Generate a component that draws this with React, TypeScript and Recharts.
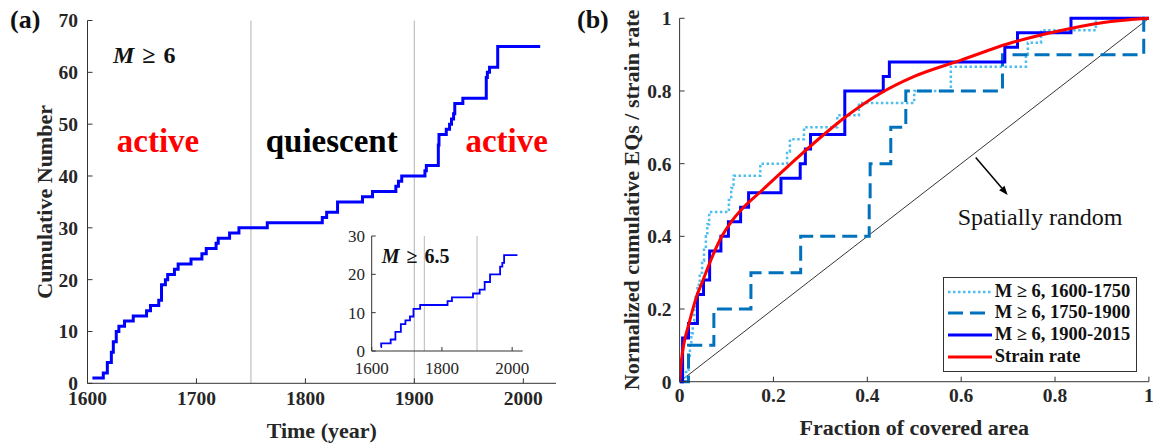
import React from 'react';
import { LineChart, Line, XAxis, YAxis, ReferenceLine, Legend } from 'recharts';

const FONT = "'Liberation Serif', 'Times New Roman', Times, serif";
const AXIS = '#333333';
const GREY = '#c4c4c4';

// (a) cumulative number of M >= 6 events
const mainYears = [1604.5, 1614.5, 1618.2, 1621.9, 1623.7, 1626.4, 1628.8, 1634, 1642, 1654.2, 1657.8, 1665.4, 1667.9, 1671.5, 1673.6, 1679.8, 1683.2, 1695, 1705, 1709, 1718, 1720, 1730.4, 1739, 1765, 1815.5, 1819.5, 1829.5, 1852.4, 1861.6, 1883, 1885.4, 1888.4, 1909.7, 1911, 1922, 1922.6, 1929.3, 1932.3, 1934.1, 1936, 1937.1, 1944.5, 1966, 1967, 1969, 1976.5, 2015.5];
const mainCounts = [1, 2, 4, 6, 8, 10, 11, 12, 13, 14, 15, 16, 19, 20, 21, 22, 23, 24, 25, 26, 27, 28, 29, 30, 31, 32, 33, 35, 36, 37, 38, 39, 40, 41, 42, 46, 48, 49, 50, 51, 52, 54, 55, 59, 60, 61, 65, 65];

// inset, M >= 6.5
const insetYears = [1626, 1627, 1654, 1667.5, 1683, 1696, 1709, 1719, 1738, 1816, 1828.5, 1888.5, 1907.5, 1921.7, 1937, 1965.7, 1972, 1977, 2015];
const insetCounts = [1, 2, 3, 5, 7, 8, 9, 11, 12, 13, 14, 15, 16, 18, 20, 22, 23, 25, 25];

const yearTicks = [1600, 1700, 1800, 1900, 2000];
const countTicks = [0, 10, 20, 30, 40, 50, 60, 70];
const insetYearTicks = [1600, 1800, 2000];
const insetCountTicks = [0, 10, 20, 30];
const phaseBounds = [1750, 1900];

// (b) normalized cumulative curves vs fraction of covered area
const earlyF = [0, 0.014, 0.019, 0.022, 0.025, 0.028, 0.031, 0.034, 0.038, 0.043, 0.048, 0.052, 0.056, 0.059, 0.063, 0.105, 0.11, 0.115, 0.172, 0.229, 0.235, 0.265, 0.336, 0.382, 0.5, 0.578, 0.738, 0.742, 0.77, 0.887, 1];
const earlyV = [0, 0.033, 0.067, 0.1, 0.133, 0.167, 0.2, 0.233, 0.267, 0.3, 0.333, 0.367, 0.4, 0.433, 0.467, 0.5, 0.533, 0.567, 0.6, 0.633, 0.667, 0.7, 0.733, 0.767, 0.8, 0.867, 0.9, 0.933, 0.967, 1, 1];
const midF = [0, 0.019, 0.073, 0.152, 0.258, 0.404, 0.406, 0.45, 0.482, 0.688, 0.989, 1];
const midV = [0, 0.1, 0.2, 0.3, 0.4, 0.5, 0.6, 0.7, 0.8, 0.9, 1, 1];
const lateF = [0, 0.0064, 0.019, 0.038, 0.051, 0.064, 0.088, 0.104, 0.13, 0.147, 0.216, 0.257, 0.268, 0.279, 0.352, 0.434, 0.447, 0.693, 0.72, 0.834, 1];
const lateV = [0, 0.12, 0.16, 0.24, 0.28, 0.36, 0.4, 0.44, 0.48, 0.52, 0.56, 0.6, 0.64, 0.68, 0.8, 0.84, 0.88, 0.92, 0.96, 1, 1];
const strainF = [0, 0.004, 0.01, 0.02, 0.035, 0.05, 0.07, 0.09, 0.11, 0.135, 0.17, 0.21, 0.25, 0.3, 0.352, 0.43, 0.5, 0.6, 0.7, 0.8, 0.9, 1];
const strainV = [0, 0.06, 0.11, 0.16, 0.23, 0.28, 0.345, 0.4, 0.44, 0.478, 0.52, 0.568, 0.615, 0.672, 0.727, 0.795, 0.84, 0.885, 0.93, 0.963, 0.988, 1];
const randomF = [0, 1];
const randomV = [0, 1];
const fracTicks = [0, 0.2, 0.4, 0.6, 0.8, 1];
const arrowFrom = [0.631, 0.617];
const arrowTo = [0.699, 0.514];

const pairs = (xs: number[], ys: number[], kx: string, ky: string) =>
  xs.map((x, i) => ({ [kx]: x, [ky]: ys[i] }));

const mainData = pairs(mainYears, mainCounts, 'year', 'count');
const insetData = pairs(insetYears, insetCounts, 'year', 'count');
const earlyData = pairs(earlyF, earlyV, 'f', 'v');
const midData = pairs(midF, midV, 'f', 'v');
const lateData = pairs(lateF, lateV, 'f', 'v');
const strainData = pairs(strainF, strainV, 'f', 'v');
const randomData = pairs(randomF, randomV, 'f', 'v');

const seriesStyle: Record<string, { color: string; width: number; dash?: string }> = {
  'M ≥ 6, 1600-1750': { color: '#4dbeee', width: 2.5, dash: '2.5 2.5' },
  'M ≥ 6, 1750-1900': { color: '#0072bd', width: 3, dash: '15 7' },
  'M ≥ 6, 1900-2015': { color: '#0000ff', width: 3 },
  'Strain rate': { color: '#ff0000', width: 3 },
};

const tickBold = { fontSize: 19.5, fontWeight: 'bold', fill: '#262626', fontFamily: FONT };
const titleStyle = { fontSize: 22, fontWeight: 'bold', fill: '#262626', fontFamily: FONT };

function ArrowShape(props: any) {
  const { x1, y1, x2, y2 } = props;
  const dx = x2 - x1;
  const dy = y2 - y1;
  const len = Math.hypot(dx, dy) || 1;
  const ux = dx / len;
  const uy = dy / len;
  const bx = x2 - ux * 9;
  const by = y2 - uy * 9;
  const pts = `${x2},${y2} ${bx - uy * 3.5},${by + ux * 3.5} ${bx + uy * 3.5},${by - ux * 3.5}`;
  return (
    <g>
      <line x1={x1} y1={y1} x2={bx} y2={by} stroke="#000" strokeWidth={1.5} />
      <polygon points={pts} fill="#000" />
    </g>
  );
}

function renderLegend(props: any) {
  const items = (props.payload || []).filter((p: any) => seriesStyle[p.value]);
  return (
    <div
      style={{
        border: `1px solid ${AXIS}`,
        background: '#fff',
        padding: '3px 6px 3px 4px',
        fontFamily: FONT,
        fontWeight: 'bold',
        fontSize: 18.5,
        lineHeight: '21.8px',
        color: '#111',
      }}
    >
      {items.map((it: any) => {
        const st = seriesStyle[it.value];
        return (
          <div key={it.value} style={{ display: 'flex', alignItems: 'center', whiteSpace: 'nowrap' }}>
            <svg width={44} height={10} style={{ marginRight: 3 }}>
              <line x1={0} y1={5} x2={44} y2={5} stroke={st.color} strokeWidth={st.width} strokeDasharray={st.dash} />
            </svg>
            <span>{it.value}</span>
          </div>
        );
      })}
    </div>
  );
}

function PanelA() {
  return (
    <div style={{ position: 'absolute', left: 0, top: 0 }}>
      <LineChart width={580} height={443} margin={{ top: 20.5, right: 24, bottom: 0, left: 0 }}>
        <XAxis
          xAxisId="x"
          dataKey="year"
          type="number"
          domain={[1600, 2030]}
          ticks={yearTicks}
          interval={0}
          allowDataOverflow
          height={59.7}
          stroke={AXIS}
          tickSize={-5}
          tickMargin={12.5}
          tick={tickBold}
          label={{ value: 'Time (year)', position: 'insideBottom', offset: 5.5, ...titleStyle }}
        />
        <XAxis xAxisId="top" orientation="top" type="number" domain={[1600, 2030]} ticks={yearTicks} interval={0} height={0} stroke={AXIS} tickSize={-5} tick={false} />
        <YAxis
          yAxisId="y"
          type="number"
          domain={[0, 70]}
          ticks={countTicks}
          interval={0}
          width={87.5}
          stroke={AXIS}
          tickSize={-5}
          tickMargin={14.5}
          tick={tickBold}
          label={{ value: 'Cumulative Number', angle: -90, position: 'center', ...titleStyle }}
        />
        <YAxis yAxisId="right" orientation="right" type="number" domain={[0, 70]} ticks={countTicks} interval={0} width={0} stroke={AXIS} tickSize={-5} tick={false} />
        {phaseBounds.map((yr) => (
          <ReferenceLine key={yr} xAxisId="x" yAxisId="y" x={yr} stroke={GREY} strokeWidth={1.3} />
        ))}
        <Line
          xAxisId="x"
          yAxisId="y"
          data={mainData}
          dataKey="count"
          type="stepAfter"
          stroke="#0000ff"
          strokeWidth={3}
          dot={false}
          activeDot={false}
          isAnimationActive={false}
        />
      </LineChart>
    </div>
  );
}

function Inset() {
  const small = { fontSize: 17, fill: '#262626', fontFamily: FONT };
  return (
    <div style={{ position: 'absolute', left: 330, top: 226 }}>
      <LineChart width={215} height={155} margin={{ top: 10, right: 22.3, bottom: 0, left: 0 }}>
        <XAxis xAxisId="x" dataKey="year" type="number" domain={[1600, 2030]} ticks={insetYearTicks} interval={0} allowDataOverflow height={30} stroke={AXIS} tickSize={-4} tickMargin={15} tick={small} />
        <XAxis xAxisId="top" orientation="top" type="number" domain={[1600, 2030]} ticks={insetYearTicks} interval={0} height={0} stroke={AXIS} tickSize={-4} tick={false} />
        <YAxis yAxisId="y" type="number" domain={[0, 30]} ticks={insetCountTicks} interval={0} width={41.7} stroke={AXIS} tickSize={-4} tickMargin={10.7} tick={small} />
        <YAxis yAxisId="right" orientation="right" type="number" domain={[0, 30]} ticks={insetCountTicks} interval={0} width={0} stroke={AXIS} tickSize={-4} tick={false} />
        {phaseBounds.map((yr) => (
          <ReferenceLine key={yr} xAxisId="x" yAxisId="y" x={yr} stroke={GREY} strokeWidth={1.2} />
        ))}
        <Line
          xAxisId="x"
          yAxisId="y"
          data={insetData}
          dataKey="count"
          type="stepAfter"
          stroke="#0000ff"
          strokeWidth={1.8}
          dot={false}
          activeDot={false}
          isAnimationActive={false}
        />
      </LineChart>
    </div>
  );
}

function PanelB() {
  const names = Object.keys(seriesStyle);
  const series = [earlyData, midData, lateData, strainData];
  return (
    <div style={{ position: 'absolute', left: 582.7, top: 0 }}>
      <LineChart width={575.3} height={443} margin={{ top: 18.3, right: 9.4, bottom: 0, left: 0 }}>
        <XAxis
          xAxisId="x"
          dataKey="f"
          type="number"
          domain={[0, 1]}
          ticks={fracTicks}
          interval={0}
          allowDataOverflow
          height={61.3}
          stroke={AXIS}
          tickSize={-5}
          tickMargin={11.5}
          tick={tickBold}
          label={{ value: 'Fraction of covered area', position: 'insideBottom', offset: 8, ...titleStyle }}
        />
        <XAxis xAxisId="top" orientation="top" type="number" domain={[0, 1]} ticks={fracTicks} interval={0} height={0} stroke={AXIS} tickSize={-5} tick={false} />
        <YAxis
          yAxisId="y"
          type="number"
          domain={[0, 1]}
          ticks={fracTicks}
          interval={0}
          width={96.6}
          stroke={AXIS}
          tickSize={-5}
          tickMargin={13}
          tick={tickBold}
          label={{ value: 'Normalized cumulative EQs / strain rate', angle: -90, position: 'center', ...titleStyle }}
        />
        <YAxis yAxisId="right" orientation="right" type="number" domain={[0, 1]} ticks={fracTicks} interval={0} width={0} stroke={AXIS} tickSize={-5} tick={false} />
        <Line
          xAxisId="x"
          yAxisId="y"
          data={randomData}
          dataKey="v"
          name="Spatially random"
          type="linear"
          stroke="#000"
          strokeWidth={0.8}
          dot={false}
          activeDot={false}
          legendType="none"
          isAnimationActive={false}
        />
        {names.map((nm, i) => {
          const st = seriesStyle[nm];
          return (
            <Line
              key={nm}
              xAxisId="x"
              yAxisId="y"
              data={series[i]}
              dataKey="v"
              name={nm}
              type={nm === 'Strain rate' ? 'monotone' : 'stepAfter'}
              stroke={st.color}
              strokeWidth={st.width}
              strokeDasharray={st.dash}
              dot={false}
              activeDot={false}
              isAnimationActive={false}
            />
          );
        })}
        <ReferenceLine
          xAxisId="x"
          yAxisId="y"
          segment={[
            { x: arrowFrom[0], y: arrowFrom[1] },
            { x: arrowTo[0], y: arrowTo[1] },
          ]}
          shape={ArrowShape}
        />
        <Legend
          layout="vertical"
          align="center"
          verticalAlign="middle"
          content={renderLegend}
          wrapperStyle={{ left: 360, top: 276.7, width: 'auto' }}
        />
      </LineChart>
    </div>
  );
}

function Annotations() {
  const base = { fontFamily: FONT, fontWeight: 'bold' as const };
  return (
    <svg width={1158} height={443} style={{ position: 'absolute', left: 0, top: 0, pointerEvents: 'none' }}>
      <text x={10} y={28} fontSize={26} fill="#111" {...base}>(a)</text>
      <text x={577} y={28} fontSize={26} fill="#111" {...base}>(b)</text>
      <text x={113} y={63} fontSize={24} fill="#111" {...base}>
        <tspan fontStyle="italic">M</tspan>
        <tspan dx={8}>≥</tspan>
        <tspan dx={8}>6</tspan>
      </text>
      <text x={158} y={151.5} fontSize={33} fill="#ff0000" textAnchor="middle" {...base}>active</text>
      <text x={331.7} y={151.5} fontSize={33} fill="#000" textAnchor="middle" {...base}>quiescent</text>
      <text x={506.7} y={151.5} fontSize={33} fill="#ff0000" textAnchor="middle" {...base}>active</text>
      <text x={381.7} y={263.3} fontSize={20} fill="#111" {...base}>
        <tspan fontStyle="italic">M</tspan>
        <tspan dx={7}>≥</tspan>
        <tspan dx={7}>6.5</tspan>
      </text>
      <text x={1040} y={225} fontSize={24} fill="#111" textAnchor="middle" fontFamily={FONT}>Spatially random</text>
    </svg>
  );
}

export default function App() {
  return (
    <div style={{ position: 'absolute', left: 0, top: 0, width: 1158, height: 443, background: '#fff', overflow: 'hidden' }}>
      <PanelA />
      <Inset />
      <PanelB />
      <Annotations />
    </div>
  );
}
